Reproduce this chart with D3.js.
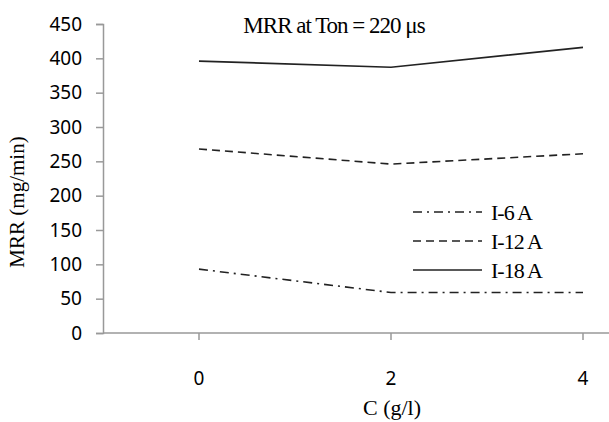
<!DOCTYPE html>
<html>
<head>
<meta charset="utf-8">
<script src="https://cdn.jsdelivr.net/npm/d3@7"></script>
<style>
  body { margin: 0; background: #fff; }
  svg { display: block; }
</style>
</head>
<body>
<div class="chart"></div>
<script>
// concentration values on the x axis
const conc = [0, 2, 4];
// MRR for each current
const i6 = [93, 59, 59];
const i12 = [268, 246, 261];
const i18 = [396, 387, 416];
const seriesNames = ['I-6 A', 'I-12 A', 'I-18 A'];
const yTicks = [0, 50, 100, 150, 200, 250, 300, 350, 400, 450];

const width = 609;
const height = 422;

const svg = d3.select('.chart')
    .append('svg')
    .attr('width', width)
    .attr('height', height);

// scales (x runs from -1 so the first category sits in from the axis)
const x = d3.scaleLinear().domain([-1, 4]).range([103, 583]);
const y = d3.scaleLinear().domain([0, 450]).range([333, 24]);

// y axis
const yAxis = svg.append('g')
    .attr('transform', 'translate(103,0)')
    .call(d3.axisLeft(y).tickValues(yTicks).tickSize(7).tickPadding(14));
yAxis.select('.domain').attr('stroke', '#999').attr('stroke-width', 1.5);
yAxis.selectAll('.tick line').attr('stroke', '#999').attr('stroke-width', 1.5);
yAxis.selectAll('text')
    .attr('font-family', 'Noto Sans')
    .attr('font-size', 19)
    .attr('fill', '#000');

// x axis, runs past the right edge
svg.append('line')
    .attr('x1', 103).attr('x2', width)
    .attr('y1', y(0)).attr('y2', y(0))
    .attr('stroke', '#999').attr('stroke-width', 1.5);
svg.selectAll('.xtick')
    .data(conc)
    .enter()
    .append('line')
    .attr('x1', d => x(d)).attr('x2', d => x(d))
    .attr('y1', y(0)).attr('y2', y(0) + 7)
    .attr('stroke', '#999').attr('stroke-width', 1.5);
svg.selectAll('.xlabel')
    .data(conc)
    .enter()
    .append('text')
    .text(d => d)
    .attr('x', d => x(d))
    .attr('y', 385)
    .attr('text-anchor', 'middle')
    .attr('font-family', 'Noto Sans')
    .attr('font-size', 19);

// lines
const dashes = ['9,5,2,5', '8,5', null];
const allSeries = [i6, i12, i18];
const line = d3.line()
    .x((d, i) => x(conc[i]))
    .y(d => y(d));

allSeries.forEach((s, k) => {
    svg.append('path')
        .datum(s)
        .attr('d', line)
        .attr('fill', 'none')
        .attr('stroke', '#222')
        .attr('stroke-width', 1.6)
        .attr('stroke-dasharray', dashes[k]);
});

// legend
seriesNames.forEach((name, k) => {
    const ly = 212 + k * 29;
    svg.append('line')
        .attr('x1', 413).attr('x2', 482)
        .attr('y1', ly).attr('y2', ly)
        .attr('stroke', '#222')
        .attr('stroke-width', 1.6)
        .attr('stroke-dasharray', dashes[k]);
    svg.append('text')
        .text(name)
        .attr('x', 491)
        .attr('y', ly + 8)
        .attr('font-family', 'Liberation Serif')
        .attr('font-size', 22)
        .attr('letter-spacing', -1);
});

// title
svg.append('text')
    .text('MRR at Ton = 220 μs')
    .attr('x', 334)
    .attr('y', 33)
    .attr('text-anchor', 'middle')
    .attr('font-family', 'Liberation Serif')
    .attr('font-size', 23)
    .attr('letter-spacing', -1);

// axis titles
svg.append('text')
    .text('C (g/l)')
    .attr('x', 392)
    .attr('y', 415)
    .attr('text-anchor', 'middle')
    .attr('font-family', 'Liberation Serif')
    .attr('font-size', 22);

svg.append('text')
    .text('MRR (mg/min)')
    .attr('transform', 'translate(24,202) rotate(-90)')
    .attr('text-anchor', 'middle')
    .attr('font-family', 'Liberation Serif')
    .attr('font-size', 21);
</script>
</body>
</html>
